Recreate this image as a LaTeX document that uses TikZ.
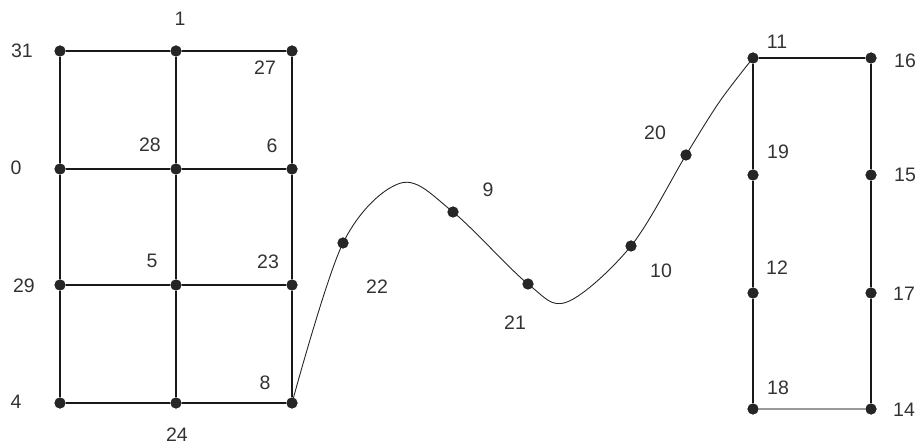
\documentclass[tikz,border=0pt]{standalone}
\usepackage{fontspec}
\setmainfont{Liberation Sans}
\begin{document}
\begin{tikzpicture}[x=1pt,y=-1pt,
  dot/.style={circle,fill=black!85,inner sep=0pt,minimum size=11pt},
  lbl/.style={inner sep=0pt,text=black!80,font=\fontsize{19.5}{22}\selectfont},
  edge/.style={line width=1.5pt,black!90},
  curve/.style={line width=0.9pt,black!85},
  greyedge/.style={line width=1.5pt,black!40}]
\useasboundingbox (0,0) rectangle (921,446);
% left grid
\node[dot] (n31) at (60,51) {};
\node[dot] (n1) at (176,51) {};
\node[dot] (n27) at (292,51) {};
\node[dot] (n0) at (60,169) {};
\node[dot] (n28) at (176,169) {};
\node[dot] (n6) at (292,169) {};
\node[dot] (n29) at (60,285) {};
\node[dot] (n5) at (176,285) {};
\node[dot] (n23) at (292,285) {};
\node[dot] (n4) at (60,403) {};
\node[dot] (n24) at (176,403) {};
\node[dot] (n8) at (292,403) {};
% curve points
\node[dot] (n22) at (343,243) {};
\node[dot] (n9) at (453,212) {};
\node[dot] (n21) at (528,284) {};
\node[dot] (n10) at (631,246) {};
\node[dot] (n20) at (686,155) {};
\coordinate (pk) at (401,183);
\coordinate (tr) at (567,302);
\coordinate (bd) at (720,101);
% right box
\node[dot] (n11) at (753,58) {};
\node[dot] (n16) at (871,58) {};
\node[dot] (n19) at (753,175) {};
\node[dot] (n15) at (871,175) {};
\node[dot] (n12) at (753,293) {};
\node[dot] (n17) at (871,293) {};
\node[dot] (n18) at (753,409) {};
\node[dot] (n14) at (871,409) {};
% edges
\draw[edge] (n31) -- (n1) -- (n27) -- (n6) -- (n23) -- (n8) -- (n24) -- (n4) -- (n29) -- (n0) -- (n31);
\draw[edge] (n0) -- (n28) -- (n6);
\draw[edge] (n29) -- (n5) -- (n23);
\draw[edge] (n1) -- (n28) -- (n5) -- (n24);
\draw[curve] plot[smooth,tension=0.55] coordinates {(n8) (n22) (pk) (n9) (n21) (tr) (n10) (n20) (bd) (n11)};
\draw[edge] (n18) -- (n12) -- (n19) -- (n11) -- (n16) -- (n15) -- (n17) -- (n14);
\draw[greyedge] (n18) -- (n14);
% redraw dots on top
\foreach \n in {n31,n1,n27,n0,n28,n6,n29,n5,n23,n4,n24,n8,n22,n9,n21,n10,n20,n11,n16,n19,n15,n12,n17,n18,n14}
  \fill[black!85] (\n) circle (5.5pt);
% labels
\node[lbl] (l31) at (22,51) {31};
\node[lbl] (l1) at (180,19) {1};
\node[lbl] (l27) at (265,68) {27};
\node[lbl] (l0) at (16,168) {0};
\node[lbl] (l28) at (150,145) {28};
\node[lbl] (l6) at (272,146) {6};
\node[lbl] (l29) at (24,286) {29};
\node[lbl] (l5) at (152,261) {5};
\node[lbl] (l23) at (268,262) {23};
\node[lbl] (l4) at (16,402) {4};
\node[lbl] (l24) at (177,435) {24};
\node[lbl] (l8) at (265,383) {8};
\node[lbl] (l22) at (377,287) {22};
\node[lbl] (l9) at (488,190) {9};
\node[lbl] (l21) at (515,323) {21};
\node[lbl] (l10) at (661,271) {10};
\node[lbl] (l20) at (655,133) {20};
\node[lbl] (l11) at (777,42) {11};
\node[lbl] (l16) at (905,61) {16};
\node[lbl] (l19) at (778,152) {19};
\node[lbl] (l15) at (905,175) {15};
\node[lbl] (l12) at (777,268) {12};
\node[lbl] (l17) at (904,294) {17};
\node[lbl] (l18) at (778,388) {18};
\node[lbl] (l14) at (904,410) {14};
\end{tikzpicture}
\end{document}
